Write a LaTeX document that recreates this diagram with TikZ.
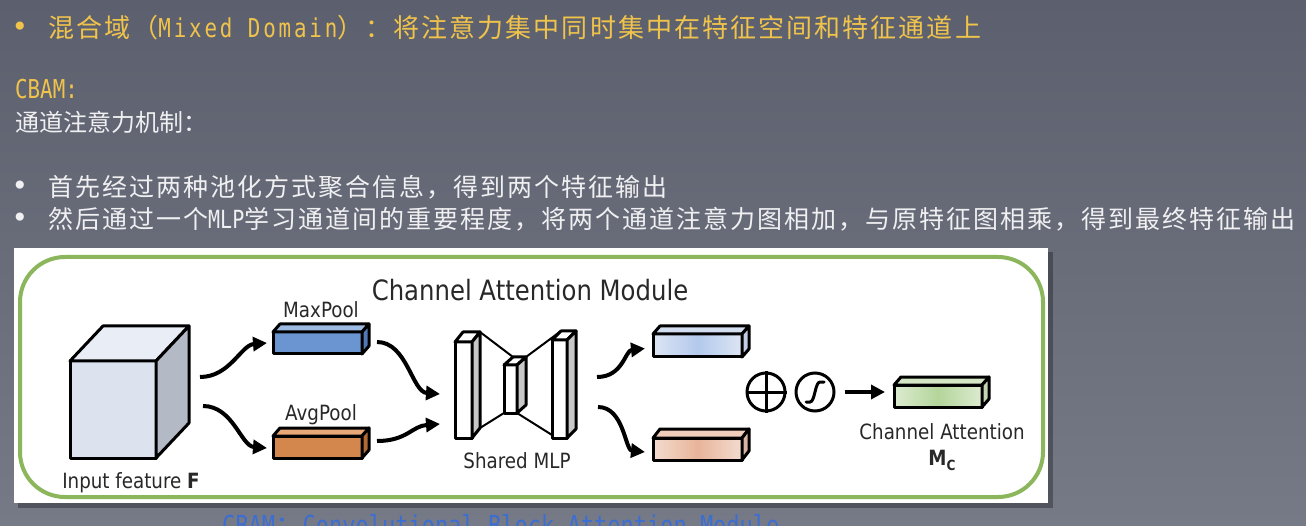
\documentclass[tikz,border=0pt]{standalone}
\usepackage{fontspec}
\usetikzlibrary{arrows.meta,calc}
\setmainfont{DejaVu Sans}
\newfontfamily\cjk{Noto Sans CJK SC}
\newfontfamily\cjksp[LetterSpace=8]{Noto Sans CJK SC}
\newfontfamily\latmono[FakeStretch=0.8]{DejaVu Sans Mono}
\newfontfamily\latmonosp[FakeStretch=0.8,LetterSpace=11]{DejaVu Sans Mono}
\newfontfamily\tah[FakeStretch=0.87]{DejaVu Sans}
\definecolor{gold}{RGB}{240,195,75}
\definecolor{txtw}{RGB}{240,240,242}
\definecolor{bgtop}{RGB}{92,96,110}
\definecolor{bgbot}{RGB}{118,122,134}
\definecolor{frame}{RGB}{140,182,92}
\definecolor{dark}{RGB}{40,40,40}
\definecolor{linkblue}{RGB}{60,110,210}
\tikzset{
  boxfront/.style={draw=black, line width=3pt, line join=round, inner sep=0pt, outer sep=0pt},
  boxedge/.style={draw=black, line width=3pt, line join=round},
  flow/.style={line width=4pt, -{Triangle[length=14pt,width=14pt]}},
  thinlink/.style={line width=2pt, black},
  lbl/.style={inner sep=0pt, anchor=base, text=dark, font=\tah\fontsize{21}{24}\selectfont},
  op/.style={circle, draw=black, line width=3pt, minimum size=38pt, inner sep=0pt},
  slide/.style={inner sep=0pt, anchor=base west},
  dot/.style={inner sep=0pt, anchor=center, font=\fontsize{28}{30}\selectfont},
}
\newcommand\cuboid[8]{%
  \node[boxfront, minimum width=#3, minimum height=#4, anchor=north west, #6] (#1) at #2 {};
  \filldraw[boxedge, fill=#7] (#1.north west) -- ($(#1.north west)+#5$) -- ($(#1.north east)+#5$) -- (#1.north east) -- cycle;
  \filldraw[boxedge, fill=#8] (#1.north east) -- ($(#1.north east)+#5$) -- ($(#1.south east)+#5$) -- (#1.south east) -- cycle;
}
\begin{document}
\begin{tikzpicture}[x=1pt, y=-1pt]
\useasboundingbox (0,0) rectangle (1306,526);
\clip (0,0) rectangle (1306,526);
\shade[top color=bgtop, bottom color=bgbot] (0,0) rectangle (1306,526);

% slide text
\node[dot, text=gold] (b0) at (20,29) {•};
\node[slide, text=gold] (title) at (48,38) {\cjksp\fontsize{26}{30}\selectfont 混合域（{\latmonosp\fontsize{26}{30}\selectfont Mixed Domain}）：将注意力集中同时集中在特征空间和特征通道上};
\node[slide, text=gold] (cbam) at (15,99) {\latmono\fontsize{26}{30}\selectfont CBAM:};
\node[slide, text=txtw] (sub) at (15,132) {\cjk\fontsize{24}{28}\selectfont 通道注意力机制：};
\node[dot, text=txtw] (b1) at (20,188) {•};
\node[slide, text=txtw] (l1) at (48,197) {\cjksp\fontsize{25}{28}\selectfont 首先经过两种池化方式聚合信息，得到两个特征输出};
\node[dot, text=txtw] (b2) at (20,220) {•};
\node[slide, text=txtw] (l2) at (48,229) {\cjksp\fontsize{25}{28}\selectfont 然后通过一个{\latmono MLP}学习通道间的重要程度，将两个通道注意力图相加，与原特征图相乘，得到最终特征输出};
\node[slide, text=linkblue] (cap) at (222,535) {\fontsize{27.5}{30}\selectfont{\latmono CBAM}{\cjk ：}{\latmono Convolutional Block Attention Module}};

% panel
\fill[black, opacity=0.3] (18,252) rectangle (1053,508);
\fill[white] (14,248) rectangle (1048,503);
\draw[frame, line width=4pt, rounded corners=45pt] (20,257) rectangle (1043,497);

\node[lbl, font=\tah\fontsize{28}{32}\selectfont] (camt) at (530,301) {Channel Attention Module};

% input cube
\cuboid{cube}{(70,361)}{86pt}{97pt}{(33,-35)}{fill={rgb,255:red,220;green,227;blue,239}}{{rgb,255:red,232;green,237;blue,246}}{{rgb,255:red,180;green,185;blue,198}}
\node[lbl] (inlbl) at (131,488) {Input feature \textbf{F}};

% pools
\cuboid{maxp}{(273,332)}{89pt}{22pt}{(7,-8)}{fill={rgb,255:red,107;green,149;blue,208}}{{rgb,255:red,157;green,186;blue,227}}{{rgb,255:red,82;green,121;blue,181}}
\node[lbl] (maxlbl) at (321,318) {MaxPool};
\cuboid{avgp}{(273,436)}{89pt}{22pt}{(7,-8)}{fill={rgb,255:red,212;green,135;blue,77}}{{rgb,255:red,232;green,168;blue,119}}{{rgb,255:red,176;green,106;blue,54}}
\node[lbl] (avglbl) at (321,420) {AvgPool};

% shared MLP
\cuboid{m1}{(455,342)}{17pt}{96pt}{(8,-10)}{fill=white}{white}{{rgb,255:red,200;green,200;blue,200}}
\cuboid{m2}{(504,365)}{13pt}{48pt}{(9,-8)}{fill=white}{white}{{rgb,255:red,200;green,200;blue,200}}
\cuboid{m3}{(552,340)}{15pt}{98pt}{(9,-9)}{fill=white}{white}{{rgb,255:red,200;green,200;blue,200}}
\draw[thinlink] ($(m1.north east)+(8,-10)$) -- ($(m2.north west)+(9,-8)$);
\draw[thinlink] ($(m1.south east)+(8,-10)$) -- (m2.south west);
\draw[thinlink] ($(m2.north east)+(9,-8)$) -- ($(m3.north west)+(9,-9)$);
\draw[thinlink] (m2.south east) -- ([yshift=3pt]m3.south west);
\node[lbl] (mlplbl) at (517,468) {Shared MLP};

% outputs
\cuboid{o1}{(653,334)}{89pt}{23pt}{(7,-8)}{left color={rgb,255:red,220;green,229;blue,243}, right color={rgb,255:red,220;green,229;blue,243}, middle color={rgb,255:red,179;green,201;blue,236}}{{rgb,255:red,210;green,221;blue,240}}{{rgb,255:red,194;green,206;blue,227}}
\cuboid{o2}{(653,438)}{89pt}{22pt}{(7,-9)}{left color={rgb,255:red,243;green,220;blue,207}, right color={rgb,255:red,243;green,220;blue,207}, middle color={rgb,255:red,232;green,180;blue,154}}{{rgb,255:red,240;green,205;blue,187}}{{rgb,255:red,217;green,179;blue,163}}

\node[op] (plus) at (766,392) {};
\draw[line width=3pt] (plus.north) -- (plus.south) (plus.west) -- (plus.east);
\node[op] (sig) at (815,392) {};
\draw[line width=3pt, line cap=round] ($(sig)+(-9,10)$) -- ++(4,0) .. controls +(5,0) and +(-5,0) .. ($(sig)+(5,-10)$) -- ++(4,0);

\cuboid{mc}{(894,385)}{88pt}{22pt}{(7,-8)}{left color={rgb,255:red,221;green,235;blue,208}, right color={rgb,255:red,221;green,235;blue,208}, middle color={rgb,255:red,179;green,213;blue,154}}{{rgb,255:red,212;green,230;blue,196}}{{rgb,255:red,195;green,214;blue,178}}
\node[lbl] (calbl) at (942,439) {Channel Attention};
\node[lbl] (mclbl) at (942,465) {\textbf{M}\raisebox{-0.25em}{\fontsize{14}{14}\selectfont\bfseries C}};

% connectors
\coordinate (s1) at (200,377);
\coordinate (s2) at (203,406);
\draw[flow] (s1) .. controls +(30,0) and +(-26,2) .. ([xshift=-6pt]maxp.west);
\draw[flow] (s2) .. controls +(30,0) and +(-26,-2) .. ([xshift=-6pt,yshift=-1pt]avgp.west);
\coordinate (s3) at (377,342);
\coordinate (s4) at (377,441);
\draw[flow] (s3) .. controls +(30,0) and +(-28,-2) .. ([xshift=-15pt,yshift=-4pt]m1.west);
\draw[flow] (s4) .. controls +(30,0) and +(-28,2) .. ([xshift=-15pt,yshift=-34pt]m1.west);
\coordinate (s5) at (597,377);
\coordinate (s6) at (598,407);
\draw[flow] (s5) .. controls +(26,0) and +(-20,2) .. ([xshift=-8pt,yshift=-3pt]o1.west);
\draw[flow] (s6) .. controls +(26,0) and +(-20,-2) .. ([xshift=-8pt,yshift=-3pt]o2.west);
\draw[flow] ([xshift=9pt]sig.east) -- ([xshift=-9pt]mc.west |- sig.east);
\end{tikzpicture}
\end{document}
